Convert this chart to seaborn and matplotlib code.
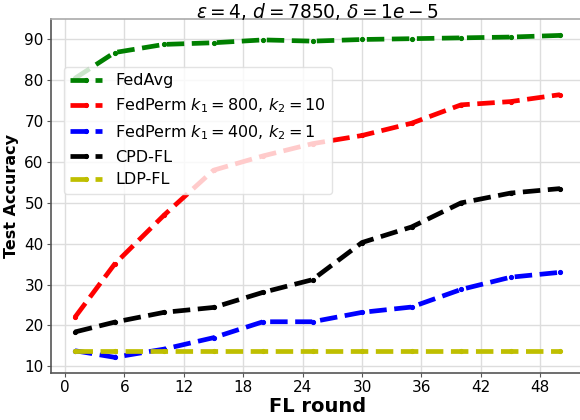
import matplotlib
matplotlib.use("Agg")
import matplotlib.pyplot as plt
import seaborn as sns

rounds = [1, 5, 10, 15, 20, 25, 30, 35, 40, 45, 50]
fedavg = [80.5, 86.8, 88.8, 89.2, 89.9, 89.6, 90.0, 90.2, 90.4, 90.6, 91.0]
fedperm_800 = [22.0, 35.0, 47.0, 58.0, 61.5, 64.5, 66.5, 69.5, 74.0, 74.8, 76.5]
fedperm_400 = [13.8, 12.2, 14.2, 17.0, 20.9, 20.9, 23.2, 24.5, 28.8, 31.8, 33.0]
cpd_fl = [18.4, 20.8, 23.2, 24.4, 28.1, 31.2, 40.3, 44.1, 50.0, 52.4, 53.5]
ldp_fl = [13.8] * 11

series_labels = ["FedAvg", r"FedPerm $k_1=800$, $k_2=10$", r"FedPerm $k_1=400$, $k_2=1$",
                 "CPD-FL", "LDP-FL"]
series_values = [fedavg, fedperm_800, fedperm_400, cpd_fl, ldp_fl]
colors = ["green", "red", "blue", "black", "y"]
xticks = [0, 6, 12, 18, 24, 30, 36, 42, 48]
yticks = [10, 20, 30, 40, 50, 60, 70, 80, 90]

sns.set_style("whitegrid")
plt.rcParams['font.family'] = ['DejaVu Sans']
plt.rcParams['text.color'] = 'black'
plt.rcParams['axes.labelcolor'] = 'black'
plt.rcParams['xtick.color'] = 'black'
plt.rcParams['ytick.color'] = 'black'

fig = plt.figure(figsize=(5.8, 4.2), dpi=100)
ax = fig.add_axes([0.0874, 0.111, 0.92, 0.843])

for lab, vals, c in zip(series_labels, series_values, colors):
    sns.lineplot(x=rounds, y=vals, ax=ax, color=c, linestyle="--", linewidth=3.4,
                 marker=".", markersize=6, markeredgecolor=c, label=lab)

ax.set_xticks(xticks)
ax.set_yticks(yticks)
ax.tick_params(axis="both", labelsize=11, length=3, color="#555555", bottom=True, left=True, pad=2)
ax.grid(True, color="#dddddd", linewidth=1)
for s in ["left", "bottom"]:
    ax.spines[s].set_color("#555555")
    ax.spines[s].set_linewidth(1.2)
for s in ["top", "right"]:
    ax.spines[s].set_color("#aaaaaa")
    ax.spines[s].set_linewidth(1.2)

ax.set_title(r"$\epsilon=4$, $d=7850$, $\delta=1e-5$", fontsize=13.4, pad=1)
ax.set_xlabel("FL round", fontsize=14, fontweight="bold", labelpad=1)
ax.set_ylabel("Test Accuracy", fontsize=11.5, fontweight="bold", labelpad=4)

ax.legend(loc="upper left", bbox_to_anchor=(0.025, 0.866), borderaxespad=0,
          fontsize=11.5, handlelength=2, framealpha=0.8, facecolor="white",
          edgecolor="#dddddd")

fig.savefig("out.png", dpi=100)
